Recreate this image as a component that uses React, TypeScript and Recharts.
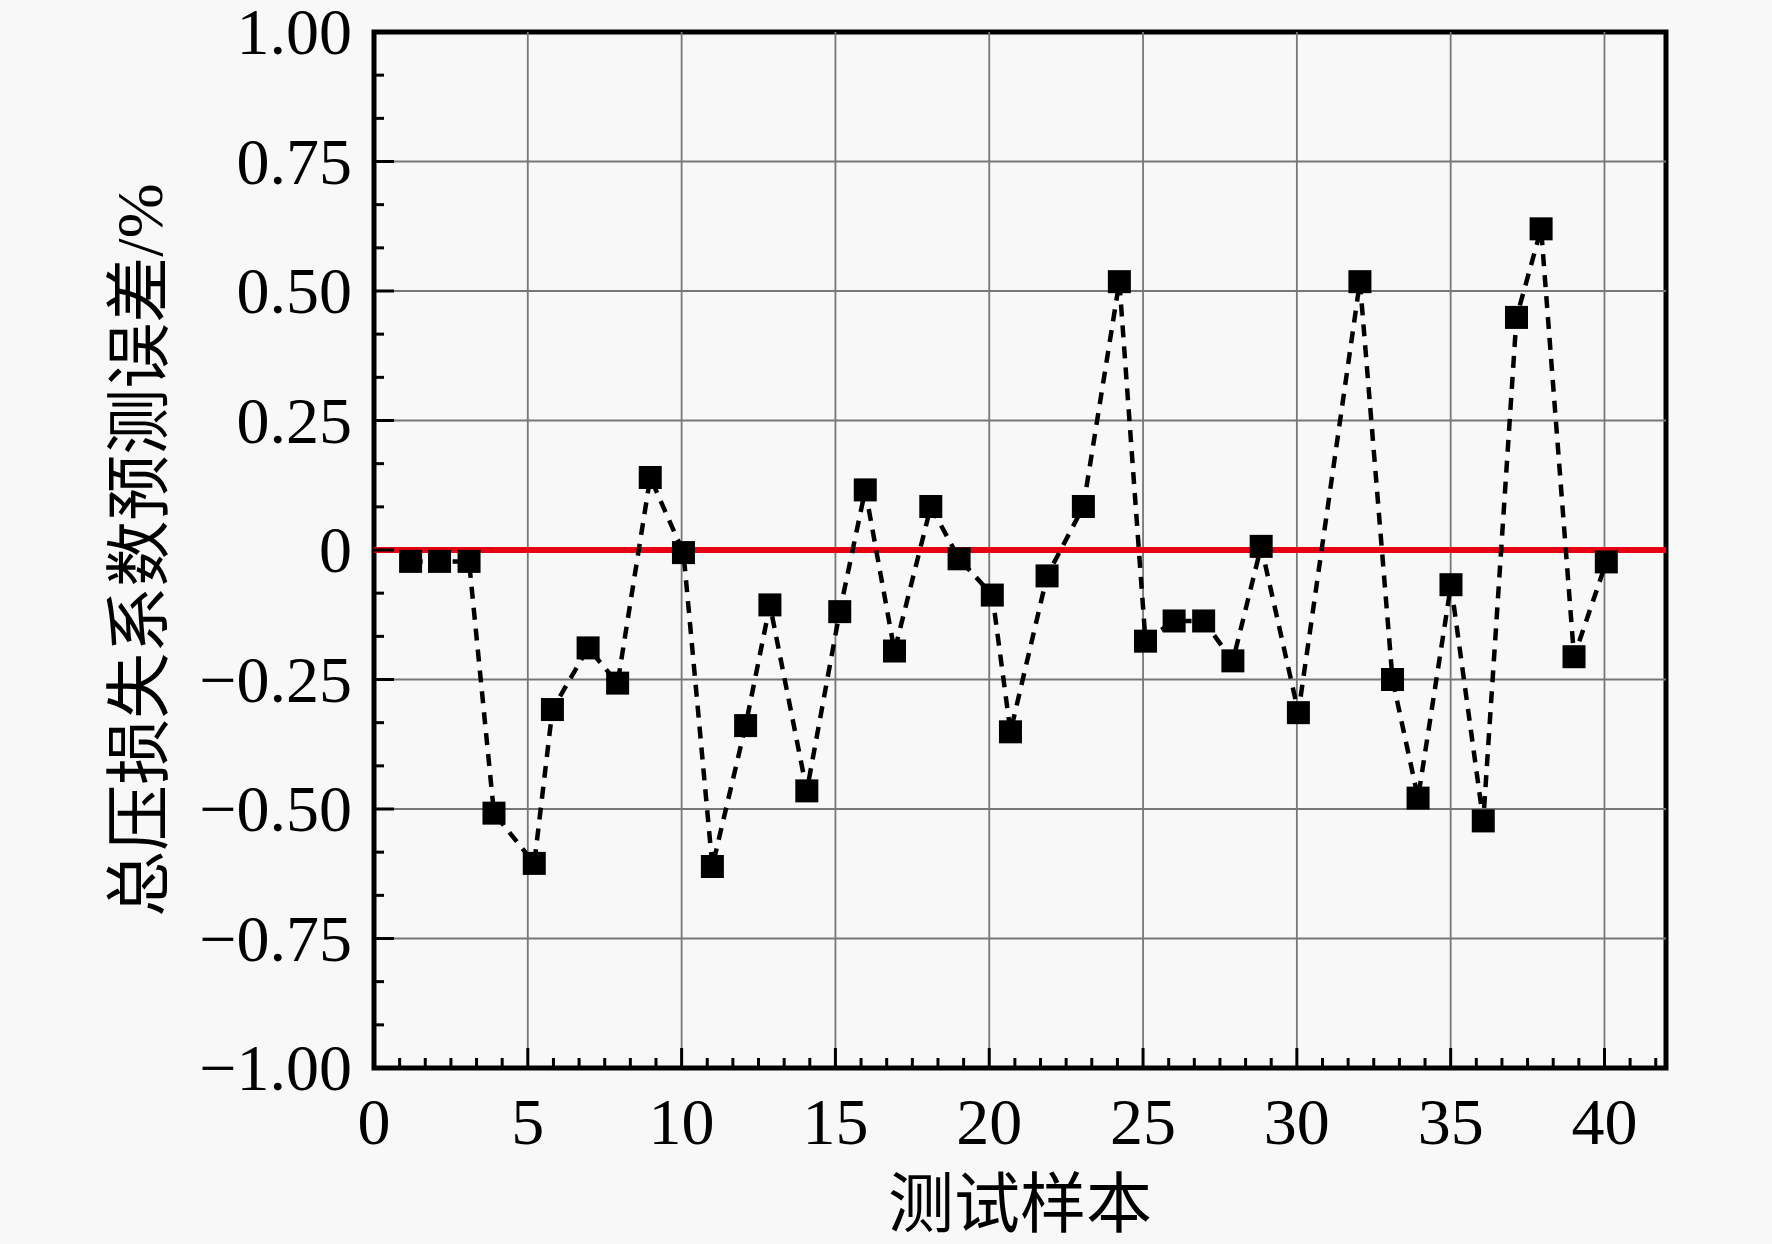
import React from 'react';
import { LineChart, Line, XAxis, YAxis, ReferenceLine, ReferenceArea } from 'recharts';

// Sample positions (x) and prediction error of total-pressure-loss coefficient (%)
const sampleX = [
  1.19, 2.13, 3.09, 3.9, 5.21, 5.8, 6.96, 7.92, 8.98, 10.06,
  11.0, 12.08, 12.87, 14.07, 15.14, 15.97, 16.92, 18.1, 19.02, 20.1,
  20.69, 21.88, 23.06, 24.23, 25.08, 26.01, 26.97, 27.92, 28.84, 30.05,
  32.05, 33.11, 33.94, 35.01, 36.06, 37.14, 37.94, 39.01, 40.06,
];
const errorValues = [
  -0.022, -0.022, -0.022, -0.508, -0.605, -0.308, -0.189, -0.257, 0.14, -0.005,
  -0.611, -0.339, -0.106, -0.465, -0.119, 0.116, -0.195, 0.084, -0.017, -0.087,
  -0.351, -0.05, 0.084, 0.518, -0.176, -0.137, -0.137, -0.214, 0.007, -0.314,
  0.518, -0.25, -0.479, -0.067, -0.523, 0.449, 0.62, -0.206, -0.023,
];

const xMajorTicks = [0, 5, 10, 15, 20, 25, 30, 35, 40];
const xTickLabels = ['0', '5', '10', '15', '20', '25', '30', '35', '40'];
const yMajorTicks = [-1, -0.75, -0.5, -0.25, 0, 0.25, 0.5, 0.75, 1];
const yTickLabels = ['\u22121.00', '\u22120.75', '\u22120.50', '\u22120.25', '0', '0.25', '0.50', '0.75', '1.00'];
const xDomain = [0, 42];
const yDomain = [-1, 1];
const xMinorSubdivisions = 6;
const yMinorSubdivisions = 3;

const xTitle = '测试样本';
const yTitle = '总压损失系数预测误差/%';

const data = sampleX.map((x, i) => ({ x, y: errorValues[i] }));

function buildTicks(majors: number[], subdivisions: number, max: number) {
  const step = (majors[1] - majors[0]) / subdivisions;
  const out: number[] = [];
  const start = majors[0];
  for (let k = 0; start + k * step <= max + 1e-9; k++) {
    out.push(Math.round((start + k * step) * 10000) / 10000);
  }
  return out;
}

const xAllTicks = buildTicks(xMajorTicks, xMinorSubdivisions, xDomain[1]);
const yAllTicks = buildTicks(yMajorTicks, yMinorSubdivisions, yDomain[1]);

const findIndex = (arr: number[], v: number) => arr.findIndex((m) => Math.abs(m - v) < 1e-6);

const SERIF = '"Liberation Serif", "Times New Roman", serif';
const CJK = '"Liberation Serif", "Noto Sans CJK SC", serif';
const FONT_SIZE = 66;

const XTick = (props: any) => {
  const { x, y, payload } = props;
  const idx = findIndex(xMajorTicks, payload.value);
  const major = idx >= 0;
  return (
    <g>
      <line x1={x} y1={y} x2={x} y2={y - (major ? 20 : 10)} stroke="#000" strokeWidth={3} />
      {major && (
        <text x={x} y={y + 76} textAnchor="middle" fontFamily={SERIF} fontSize={FONT_SIZE} fill="#000">
          {xTickLabels[idx]}
        </text>
      )}
    </g>
  );
};

const YTick = (props: any) => {
  const { x, y, payload } = props;
  const idx = findIndex(yMajorTicks, payload.value);
  const major = idx >= 0;
  return (
    <g>
      <line x1={x} y1={y} x2={x + (major ? 20 : 10)} y2={y} stroke="#000" strokeWidth={3} />
      {major && (
        <text x={x - 22} y={y} dy={22} textAnchor="end" fontFamily={SERIF} fontSize={FONT_SIZE} fill="#000">
          {yTickLabels[idx]}
        </text>
      )}
    </g>
  );
};

const SquareDot = (props: any) => {
  const { cx, cy, index } = props;
  if (cx == null || cy == null) return <g key={`d-${index}`} />;
  const s = 23;
  return <rect key={`d-${index}`} x={cx - s / 2} y={cy - s / 2} width={s} height={s} fill="#000" />;
};

const XTitle = (props: any) => {
  const vb = props.viewBox || {};
  return (
    <text x={vb.x + vb.width / 2} y={vb.y + 159} textAnchor="middle" fontFamily={CJK} fontSize={FONT_SIZE} fill="#000">
      {xTitle}
    </text>
  );
};

const YTitle = (props: any) => {
  const vb = props.viewBox || {};
  const cx = 162;
  const cy = vb.y + vb.height / 2;
  return (
    <text x={cx} y={cy} transform={`rotate(-90, ${cx}, ${cy})`} textAnchor="middle" fontFamily={CJK} fontSize={FONT_SIZE} fill="#000">
      {yTitle}
    </text>
  );
};

export default function App() {
  return (
    <div style={{ position: 'absolute', left: 0, top: 0, width: 1772, height: 1244, background: '#f8f8f8' }}>
      <LineChart width={1772} height={1244} data={data} margin={{ top: 32, right: 106, bottom: 76, left: 274 }}>
        <XAxis
          type="number"
          dataKey="x"
          domain={xDomain}
          ticks={xAllTicks}
          interval={0}
          allowDataOverflow
          axisLine={false}
          tickLine={false}
          tickSize={0}
          tickMargin={0}
          height={100}
          tick={<XTick />}
          label={<XTitle />}
        />
        <YAxis
          type="number"
          domain={yDomain}
          ticks={yAllTicks}
          interval={0}
          allowDataOverflow
          axisLine={false}
          tickLine={false}
          tickSize={0}
          tickMargin={0}
          width={100}
          tick={<YTick />}
          label={<YTitle />}
        />
        {xMajorTicks.slice(1).map((v) => (
          <ReferenceLine key={`gx-${v}`} x={v} stroke="#777" strokeWidth={1.8} />
        ))}
        {yMajorTicks.slice(1, -1).map((v) => (
          <ReferenceLine key={`gy-${v}`} y={v} stroke="#777" strokeWidth={1.8} />
        ))}
        <ReferenceLine y={0} stroke="#e60012" strokeWidth={6} />
        <Line
          type="linear"
          dataKey="y"
          stroke="#000"
          strokeWidth={4.5}
          strokeDasharray="12 9"
          dot={<SquareDot />}
          activeDot={false}
          isAnimationActive={false}
        />
        <ReferenceArea x1={xDomain[0]} x2={xDomain[1]} y1={yDomain[0]} y2={yDomain[1]} fill="none" fillOpacity={0} stroke="#000" strokeWidth={5} />
      </LineChart>
    </div>
  );
}
